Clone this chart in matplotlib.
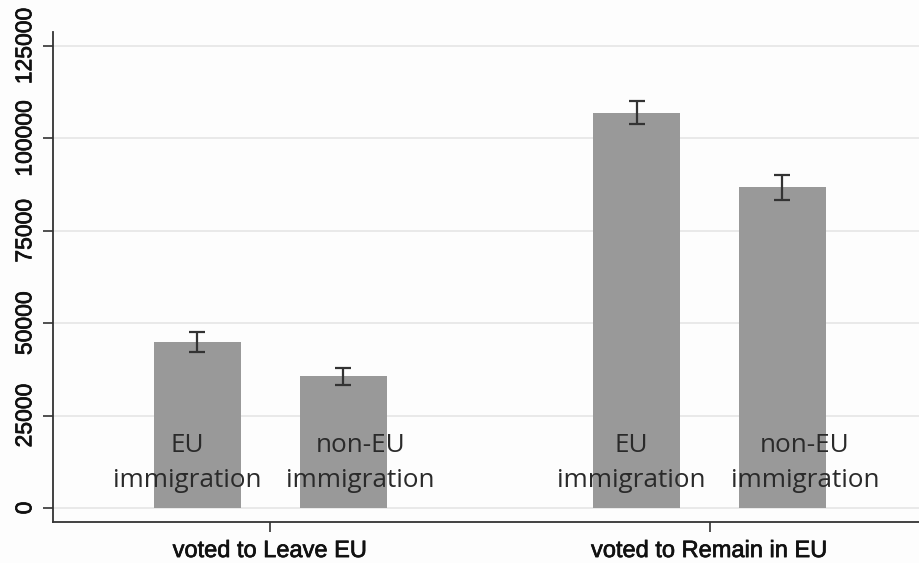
import numpy as np
import matplotlib.pyplot as plt
import matplotlib.patheffects as pe

# groups on the x axis and the two bars inside each group
groups = ["voted to Leave EU", "voted to Remain in EU"]
bar_labels = ["EU\nimmigration", "non-EU\nimmigration"]
eu_mean = [44900, 107000]
eu_err = [2700, 3100]
noneu_mean = [35700, 86800]
noneu_err = [2300, 3400]
yticks = [0, 25000, 50000, 75000, 100000, 125000]

fig = plt.figure(figsize=(9.2, 5.63), dpi=100, facecolor="#fdfdfd")
ax = fig.add_axes([53 / 920, 1 - 522 / 563, 867 / 920, 490 / 563])
ax.set_facecolor("#fdfdfd")

x = np.arange(len(groups))
off = 0.166
w = 0.198
for xs, m, e in [(x - off, eu_mean, eu_err), (x + off, noneu_mean, noneu_err)]:
    ax.bar(xs, m, width=w, color="#999999", zorder=2)
    ax.errorbar(xs, m, yerr=e, fmt="none", ecolor="#333333",
                elinewidth=1.6, capsize=6, capthick=1.6, zorder=3)

# text labels written over the bars, spread a bit wider than the bars
txt_off = 0.197
txt_shift = [0.008, 0.02]
for gx, sh in zip(x, txt_shift):
    for dx, lab in zip((-txt_off, txt_off), bar_labels):
        ax.text(gx + dx + sh, 20200, lab, ha="center", va="top",
                fontsize=18.8, family="Open Sans", color="#2a2a2a",
                linespacing=1.5, zorder=4)

ax.set_xlim(-0.494, 1.479)
ax.set_ylim(-3790, 128800)
ax.set_xticks(x)
ax.set_xticklabels(groups, fontsize=17, family="Liberation Sans")
ax.set_yticks(yticks)
ax.set_yticklabels([str(v) for v in yticks], rotation=90, va="center",
                   fontsize=16.5, family="Liberation Sans")
# slightly heavier tick labels
for t in ax.get_xticklabels() + ax.get_yticklabels():
    t.set_path_effects([pe.withStroke(linewidth=0.5, foreground="#111111")])
ax.grid(axis="y", color="#e6e6e6", linewidth=1.2, zorder=0)
ax.tick_params(axis="both", direction="out", length=7, width=1.2,
               color="#333333", labelcolor="#111111")
ax.tick_params(axis="x", pad=6)
ax.tick_params(axis="y", pad=5)
for s in ("top", "right"):
    ax.spines[s].set_visible(False)
for s in ("left", "bottom"):
    ax.spines[s].set_linewidth(1.3)
    ax.spines[s].set_color("#333333")

fig.savefig("out.png", dpi=100, facecolor=fig.get_facecolor())
